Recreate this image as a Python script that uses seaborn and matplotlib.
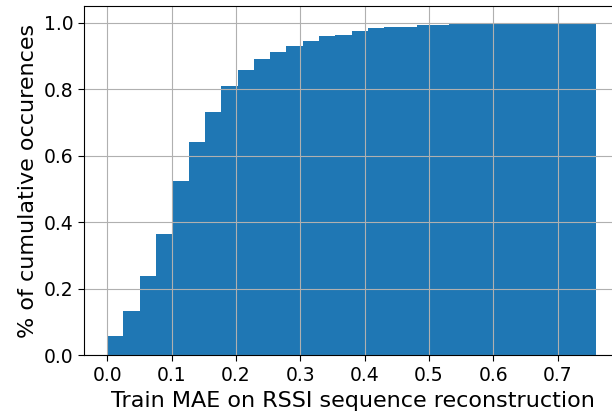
import numpy as np
import pandas as pd
import matplotlib
matplotlib.use("Agg")
import matplotlib.pyplot as plt
import seaborn as sns

mae_min = 0.0
mae_max = 0.760
n_bins = 30
cum_fraction = [0.058, 0.131, 0.238, 0.363, 0.524, 0.640, 0.731, 0.809, 0.857, 0.890,
                0.911, 0.930, 0.945, 0.959, 0.964, 0.974, 0.983, 0.988, 0.988, 0.993,
                0.993, 0.997, 0.997, 0.998, 0.999, 0.999, 0.999, 1.0, 1.0, 1.0]

edges = np.linspace(mae_min, mae_max, n_bins + 1)
df = pd.DataFrame({
    "mae": (edges[:-1] + edges[1:]) / 2,
    "frac": np.diff(cum_fraction, prepend=0),
})

fig = plt.figure(figsize=(6.12, 4.18), dpi=100)
ax = fig.add_axes([0.1377, 0.1507, 0.877, 0.835])

sns.histplot(data=df, x="mae", weights="frac", bins=list(edges), cumulative=True,
             stat="count", color="#1f77b4", alpha=1, linewidth=0, ax=ax)

ax.set_xlim(-0.0356, 0.7986)
ax.set_ylim(0, 1.05)
ax.set_xticks(np.arange(0, 0.75, 0.1))
ax.grid(True)
ax.set_xlabel("Train MAE on RSSI sequence reconstruction", fontsize=16)
ax.set_ylabel("% of cumulative occurences", fontsize=16)
ax.tick_params(labelsize=13.5, length=4.5)

fig.savefig("out.png", dpi=100)
